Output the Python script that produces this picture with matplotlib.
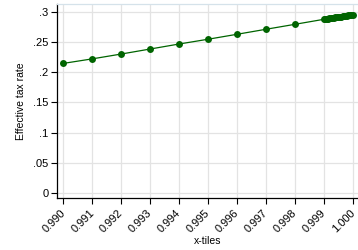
import matplotlib
matplotlib.use("Agg")
import matplotlib.pyplot as plt
import matplotlib.transforms as mtransforms

# x-tiles and effective tax rates
xtiles = [0.990, 0.991, 0.992, 0.993, 0.994, 0.995, 0.996, 0.997, 0.998,
          0.99900, 0.99905, 0.99910, 0.99915, 0.99920, 0.99925, 0.99930,
          0.99935, 0.99940, 0.99945, 0.99950, 0.99955, 0.99960, 0.99965,
          0.99970, 0.99975, 0.99980, 0.99985, 0.99990, 0.99995, 1.00000]
tax_rate = [0.2145, 0.2220, 0.2300, 0.2383, 0.2466, 0.2545, 0.2627, 0.2710,
            0.2792, 0.2875, 0.2879, 0.2883, 0.2887, 0.2890, 0.2894, 0.2898,
            0.2902, 0.2906, 0.2910, 0.2913, 0.2917, 0.2921, 0.2925, 0.2929,
            0.2933, 0.2937, 0.2941, 0.2945, 0.2949, 0.2952]

xticks = [0.990, 0.991, 0.992, 0.993, 0.994, 0.995, 0.996, 0.997, 0.998,
          0.999, 1.000]
yticks = [0, 0.05, 0.1, 0.15, 0.2, 0.25, 0.3]
ytick_labels = ["0", ".05", ".1", ".15", ".2", ".25", ".3"]

plt.rcParams['font.family'] = ['Liberation Sans', 'DejaVu Sans']

fig = plt.figure(figsize=(3.58, 2.5), dpi=100)
ax = fig.add_axes([57 / 358, 1 - 198 / 250, 1 - 57 / 358 + 0.002, 194 / 250])

ax.plot(xtiles, tax_rate, color="#006400", lw=0.9, marker="o",
        markersize=5, markeredgewidth=0, zorder=3)

ax.set_xlim(0.98979, 1.00021)
ax.set_ylim(-0.0083, 0.3129)
ax.set_xticks(xticks)
ax.set_xticklabels([f"{t:.3f}" for t in xticks], rotation=45,
                   ha="right", va="top", rotation_mode="anchor")
ax.set_yticks(yticks)
ax.set_yticklabels(ytick_labels)
ax.tick_params(axis="both", labelsize=8, length=4, width=0.8,
               color="black", pad=2)
ax.tick_params(axis="x", pad=3)

# nudge the rotated labels a little to the left, like the original
offset = mtransforms.ScaledTranslation(-3 / 100, 0, fig.dpi_scale_trans)
for lbl in ax.get_xticklabels():
    lbl.set_transform(lbl.get_transform() + offset)

ax.grid(True, color="#e3e3e3", lw=0.9)
ax.set_axisbelow(True)
for side in ["top", "right"]:
    ax.spines[side].set_color("#d5e2ea")
    ax.spines[side].set_linewidth(0.9)
for side in ["left", "bottom"]:
    ax.spines[side].set_color("black")
    ax.spines[side].set_linewidth(0.9)

ax.set_xlabel("x-tiles", fontsize=7.5, labelpad=1)
ax.set_ylabel("Effective tax rate", fontsize=7.5, labelpad=5)

fig.savefig("out.png", dpi=100)
